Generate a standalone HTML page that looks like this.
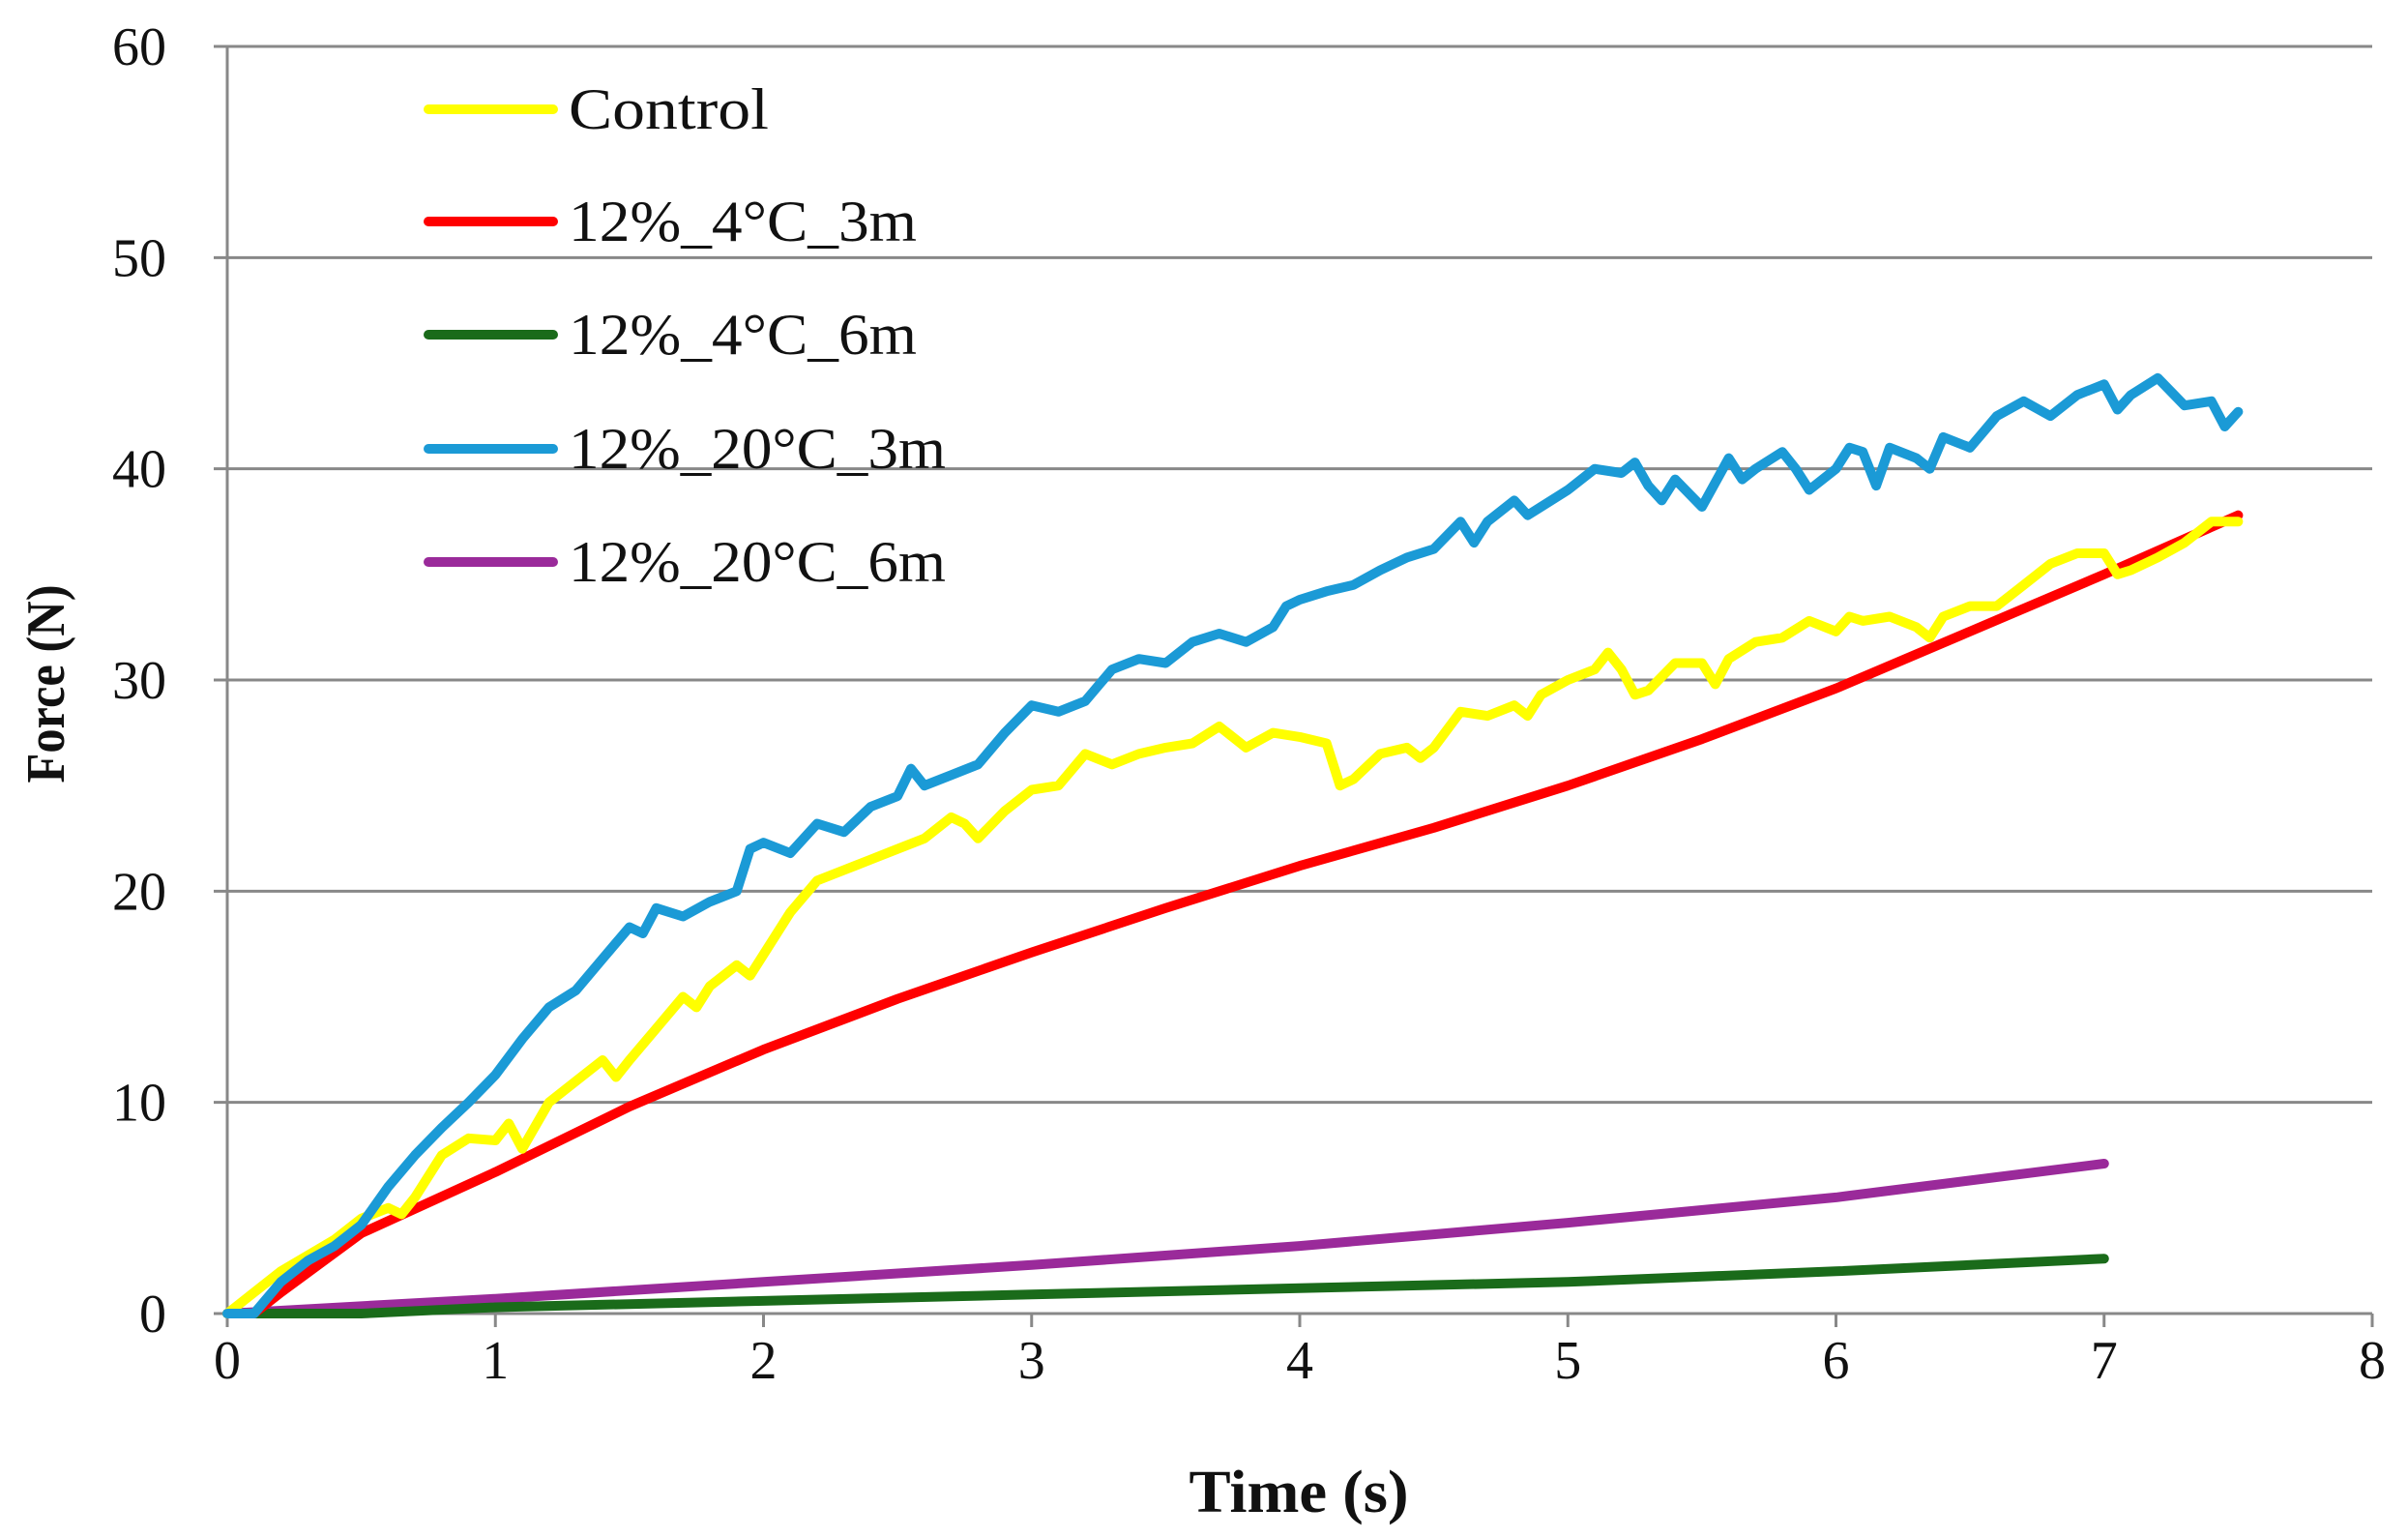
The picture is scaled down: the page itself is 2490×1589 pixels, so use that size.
<!DOCTYPE html>
<html><head><meta charset="utf-8"><style>
html,body{margin:0;padding:0;background:#fff;}
svg{display:block;}
text{font-family:"Liberation Serif",serif;fill:#111;}
</style></head><body>
<svg id="chart" width="2490" height="1589" viewBox="0 0 2490 1589" xmlns="http://www.w3.org/2000/svg">
<g id="grid"></g>
<g id="axes"></g>
<g id="series"></g>
<g id="legend"></g>
<text x="0" y="0" transform="translate(66,707) rotate(-90)" text-anchor="middle" font-size="56" font-weight="bold" textLength="205" lengthAdjust="spacingAndGlyphs">Force (N)</text>
<text x="1343" y="1563" text-anchor="middle" font-size="62" font-weight="bold" textLength="227" lengthAdjust="spacingAndGlyphs">Time (s)</text>
</svg>
<script>
const xTicks=[0,1,2,3,4,5,6,7,8];
const yTicks=[0,10,20,30,40,50,60];
const seriesNames=["Control","12%_4°C_3m","12%_4°C_6m","12%_20°C_3m","12%_20°C_6m"];
const seriesColors=["#ffff00","#ff0000","#1a6b1a","#1b9ad6","#9a2a9a"];
const controlT=[0,0.2,0.4,0.5,0.6,0.65,0.7,0.8,0.9,1.0,1.05,1.1,1.2,1.3,1.4,1.45,1.5,1.6,1.7,1.75,1.8,1.9,1.95,2.0,2.1,2.2,2.3,2.4,2.5,2.6,2.7,2.75,2.8,2.9,3.0,3.1,3.2,3.3,3.4,3.5,3.6,3.7,3.8,3.9,4.0,4.1,4.15,4.2,4.3,4.4,4.45,4.5,4.6,4.7,4.8,4.85,4.9,5.0,5.1,5.15,5.2,5.25,5.3,5.4,5.5,5.55,5.6,5.7,5.8,5.9,6.0,6.05,6.1,6.2,6.3,6.35,6.4,6.5,6.6,6.7,6.8,6.9,7.0,7.05,7.1,7.2,7.3,7.4,7.5];
const controlF=[0,2,3.5,4.5,5,4.7,5.5,7.5,8.3,8.2,9,7.8,10,11,12,11.2,12,13.5,15,14.5,15.5,16.5,16,17,19,20.5,21,21.5,22,22.5,23.5,23.2,22.5,23.8,24.8,25,26.5,26,26.5,26.8,27,27.8,26.8,27.5,27.3,27,25,25.3,26.5,26.8,26.3,26.8,28.5,28.3,28.8,28.3,29.3,30,30.5,31.3,30.5,29.3,29.5,30.8,30.8,29.8,31,31.8,32,32.8,32.3,33,32.8,33,32.5,32,33,33.5,33.5,34.5,35.5,36,36,35,35.2,35.8,36.5,37.5,37.5];
const red3mT=[0.1,0.2,0.5,1.0,1.5,2.0,2.5,3.0,3.5,4.0,4.5,5.0,5.5,6.0,6.5,7.0,7.5];
const red3mF=[0,1,3.8,6.7,9.8,12.5,14.9,17.1,19.2,21.2,23.0,25.0,27.2,29.6,32.3,35.0,37.8];
const green6mT=[0,0.5,1,2,3,4,5,6,7];
const green6mF=[0,0,0.3,0.6,0.9,1.2,1.5,2.0,2.6];
const blue3mT=[0,0.1,0.2,0.3,0.4,0.5,0.6,0.7,0.8,0.9,1.0,1.1,1.2,1.3,1.4,1.5,1.55,1.6,1.7,1.8,1.9,1.95,2.0,2.1,2.2,2.3,2.4,2.5,2.55,2.6,2.7,2.8,2.9,3.0,3.1,3.2,3.3,3.4,3.5,3.6,3.7,3.8,3.9,3.95,4.0,4.1,4.2,4.3,4.4,4.5,4.6,4.65,4.7,4.8,4.85,4.9,5.0,5.1,5.2,5.25,5.3,5.35,5.4,5.5,5.6,5.65,5.7,5.8,5.85,5.9,6.0,6.05,6.1,6.15,6.2,6.3,6.35,6.4,6.5,6.6,6.7,6.8,6.9,7.0,7.05,7.1,7.2,7.3,7.4,7.45,7.5];
const blue3mF=[0,0,1.5,2.5,3.2,4.2,6,7.5,8.8,10,11.3,13,14.5,15.3,16.8,18.3,18,19.2,18.8,19.5,20,22,22.3,21.8,23.2,22.8,24,24.5,25.8,25,25.5,26,27.5,28.8,28.5,29,30.5,31,30.8,31.8,32.2,31.8,32.5,33.5,33.8,34.2,34.5,35.2,35.8,36.2,37.5,36.5,37.5,38.5,37.8,38.2,39,40,39.8,40.3,39.2,38.5,39.5,38.2,40.5,39.5,40,40.8,40,39,40,41,40.8,39.2,41,40.5,40,41.5,41,42.5,43.2,42.5,43.5,44,42.8,43.5,44.3,43,43.2,42,42.7];
const purple6mT=[0,1,2,3,4,5,6,7];
const purple6mF=[0,0.7,1.5,2.3,3.2,4.3,5.5,7.1];

const NS="http://www.w3.org/2000/svg";
const X0=235,X1=2453,Y0=1358,Y1=48;
const xS=v=>X0+(v-xTicks[0])/(xTicks[xTicks.length-1]-xTicks[0])*(X1-X0);
const yS=v=>Y0-(v-yTicks[0])/(yTicks[yTicks.length-1]-yTicks[0])*(Y0-Y1);
function mk(tag,attrs,parent){const e=document.createElementNS(NS,tag);for(const k in attrs)e.setAttribute(k,attrs[k]);parent.appendChild(e);return e;}
const grid=document.getElementById('grid'),axes=document.getElementById('axes'),ser=document.getElementById('series'),leg=document.getElementById('legend');
yTicks.forEach(v=>{
  const l=mk('line',{x1:X0-14,x2:X1,y1:yS(v),y2:yS(v),stroke:'#888',"stroke-width":3},grid);
  
  
  const t=mk('text',{x:172,y:yS(v)+19,"text-anchor":"end","font-size":56},axes);
  t.textContent=v;
  
  
});
const ya=mk('line',{x1:X0,x2:X0,y1:Y1,y2:Y0+14,stroke:'#888',"stroke-width":3},axes);


xTicks.forEach(v=>{
  const l=mk('line',{x1:xS(v),x2:xS(v),y1:Y0,y2:Y0+14,stroke:'#888',"stroke-width":3},axes);
  
  
  const t=mk('text',{x:xS(v),y:1425,"text-anchor":"middle","font-size":56},axes);
  t.textContent=v;
  
  
});
const data=[[controlT,controlF],[red3mT,red3mF],[green6mT,green6mF],[blue3mT,blue3mF],[purple6mT,purple6mF]];
const order=[4,2,1,0,3];
order.forEach(i=>{
  const [T,F]=data[i];
  const d=T.map((t,j)=>(j?'L':'M')+xS(t).toFixed(1)+','+yS(F[j]).toFixed(1)).join('');
  const p=mk('path',{d:d,fill:'none',stroke:seriesColors[i],"stroke-width":10,"stroke-linejoin":"round","stroke-linecap":"round"},ser);
  
  
});
const legY=[113,229,346,464,581];
seriesNames.forEach((n,i)=>{
  const l=mk('line',{x1:443,x2:572,y1:legY[i],y2:legY[i],stroke:seriesColors[i],"stroke-width":10,"stroke-linecap":"round"},leg);
  
  
  const w=[207,360,360,390,390][i];
  const t=mk('text',{x:588,y:legY[i]+20,"font-size":60,textLength:w,lengthAdjust:"spacingAndGlyphs"},leg);
  t.textContent=n;
  
  
});
</script>
</body></html>
